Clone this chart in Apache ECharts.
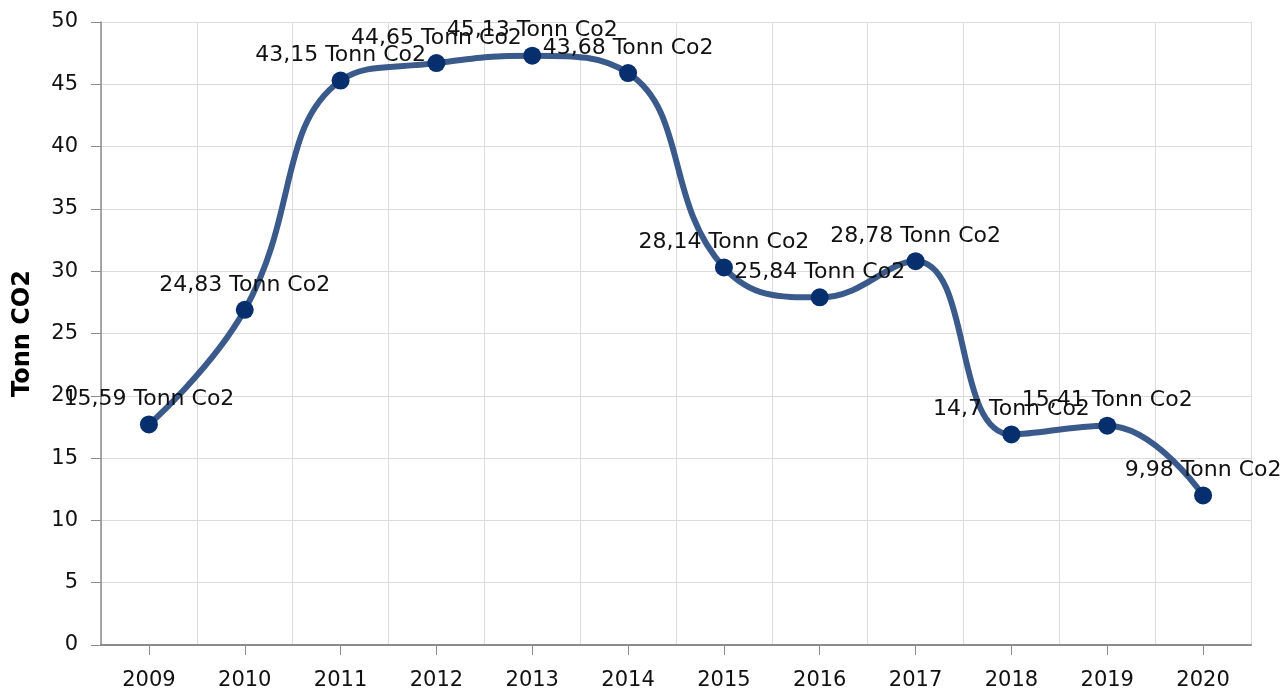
<!DOCTYPE html>
<html>
<head>
<meta charset="utf-8">
<script src="https://cdn.jsdelivr.net/npm/echarts@6/dist/echarts.min.js"></script>
<style>
html,body{margin:0;padding:0;background:#fff;}
#chart{width:1287px;height:691px;}
</style>
</head>
<body>
<div id="chart"></div>
<script>
const categories = ['2009','2010','2011','2012','2013','2014','2015','2016','2017','2018','2019','2020'];
// plotted positions
const values = [17.7, 26.9, 45.3, 46.7, 47.3, 45.9, 30.3, 27.9, 30.8, 16.9, 17.6, 12.0];
// data label texts as shown
const labelTexts = ['15,59 Tonn Co2','24,83 Tonn Co2','43,15 Tonn Co2','44,65 Tonn Co2','45,13 Tonn Co2','43,68 Tonn Co2','28,14 Tonn Co2','25,84 Tonn Co2','28,78 Tonn Co2','14,7 Tonn Co2','15,41 Tonn Co2','9,98 Tonn Co2'];
const yTitle = 'Tonn CO2';

const font = 'Verdana, "DejaVu Sans", sans-serif';
const chart = echarts.init(document.getElementById('chart'), null, {renderer:'canvas'});
chart.setOption({
  animation: false,
  backgroundColor: '#fff',
  grid: {left: 101, right: 36, top: 22, bottom: 46, containLabel: false},
  xAxis: {
    type: 'category',
    data: categories,
    boundaryGap: true,
    axisLine: {show: true, lineStyle: {color: '#8c8c8c', width: 2}},
    axisTick: {show: true, alignWithLabel: true, length: 10, lineStyle: {color: '#8c8c8c', width: 1}},
    axisLabel: {color: '#111', fontSize: 21, fontFamily: font, margin: 25},
    splitLine: {show: true, lineStyle: {color: '#dcdcdc', width: 1}}
  },
  yAxis: {
    type: 'value',
    min: 0, max: 50, interval: 5,
    name: yTitle,
    nameLocation: 'middle',
    nameGap: 66,
    nameRotate: 90,
    nameTextStyle: {color: '#000', fontSize: 24, fontWeight: 'bold', fontFamily: font},
    axisLine: {show: true, lineStyle: {color: '#8c8c8c', width: 1.5}},
    axisTick: {show: true, length: 10, lineStyle: {color: '#8c8c8c'}},
    axisLabel: {color: '#111', fontSize: 21, fontFamily: font, margin: 23},
    splitLine: {show: true, lineStyle: {color: '#dcdcdc', width: 1}}
  },
  series: [{
    type: 'line',
    data: values,
    smooth: 0.45,
    symbol: 'circle',
    symbolSize: 18,
    lineStyle: {color: '#3a5a8c', width: 6},
    itemStyle: {color: '#072f6e'},
    label: {
      show: true,
      position: 'top',
      distance: 5,
      color: '#111',
      fontSize: 22,
      fontFamily: font,
      formatter: p => labelTexts[p.dataIndex]
    },
    z: 3
  }]
});
</script>
</body>
</html>
